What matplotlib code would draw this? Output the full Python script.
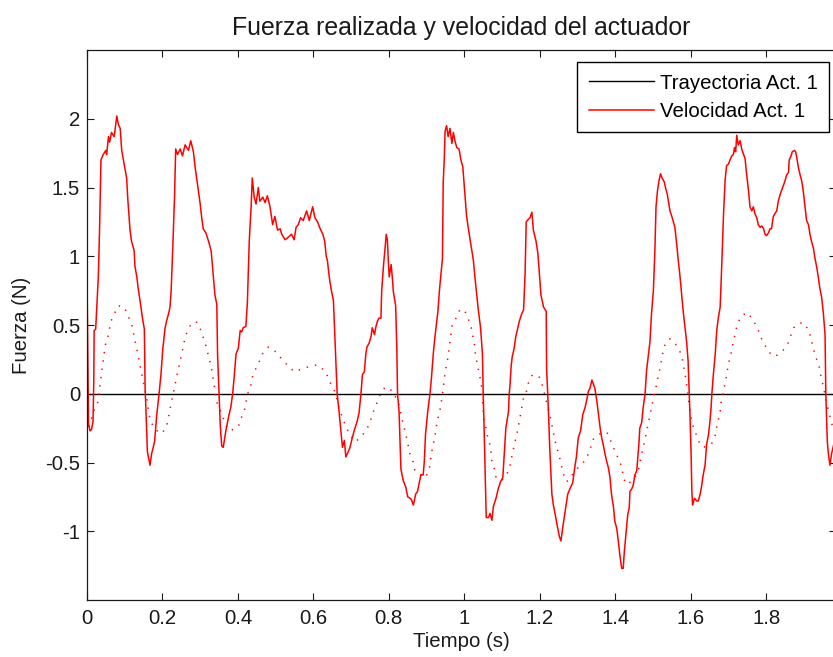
import matplotlib
matplotlib.use("Agg")
import matplotlib.pyplot as plt

plt.rcParams["font.family"] = ["Liberation Sans", "DejaVu Sans"]
plt.rcParams["axes.unicode_minus"] = False

# === DATA ===
# measured actuator signal, solid red
vel_t = [
    0.000, 0.002, 0.004, 0.008, 0.012, 0.016, 0.018, 0.019, 0.023, 0.026,
    0.030, 0.033, 0.037, 0.043, 0.050, 0.052, 0.057, 0.060, 0.065, 0.072,
    0.079, 0.083, 0.088, 0.092, 0.099, 0.105, 0.108, 0.114, 0.118, 0.125,
    0.127, 0.132, 0.136, 0.142, 0.147, 0.152, 0.154, 0.156, 0.160, 0.167,
    0.171, 0.179, 0.185, 0.191, 0.196, 0.201, 0.207, 0.211, 0.216, 0.220,
    0.223, 0.227, 0.232, 0.235, 0.240, 0.247, 0.253, 0.260, 0.269, 0.275,
    0.282, 0.286, 0.291, 0.300, 0.304, 0.308, 0.315, 0.322, 0.329, 0.335,
    0.339, 0.344, 0.346, 0.350, 0.353, 0.357, 0.361, 0.368, 0.375, 0.381,
    0.386, 0.390, 0.395, 0.401, 0.406, 0.410, 0.414, 0.421, 0.425, 0.430,
    0.435, 0.438, 0.443, 0.448, 0.454, 0.458, 0.466, 0.472, 0.478, 0.485,
    0.492, 0.498, 0.505, 0.512, 0.516, 0.525, 0.534, 0.542, 0.549, 0.554,
    0.560, 0.566, 0.573, 0.582, 0.589, 0.598, 0.604, 0.611, 0.618, 0.625,
    0.630, 0.634, 0.637, 0.642, 0.647, 0.653, 0.657, 0.663, 0.668, 0.673,
    0.677, 0.682, 0.686, 0.691, 0.697, 0.703, 0.709, 0.715, 0.721, 0.726,
    0.730, 0.735, 0.739, 0.742, 0.748, 0.753, 0.756, 0.762, 0.765, 0.770,
    0.774, 0.779, 0.781, 0.786, 0.790, 0.793, 0.796, 0.799, 0.801, 0.806,
    0.809, 0.812, 0.818, 0.821, 0.823, 0.827, 0.830, 0.832, 0.838, 0.845,
    0.850, 0.856, 0.860, 0.865, 0.871, 0.876, 0.881, 0.885, 0.891, 0.894,
    0.897, 0.903, 0.909, 0.913, 0.918, 0.922, 0.925, 0.930, 0.934, 0.938,
    0.942, 0.944, 0.947, 0.949, 0.953, 0.957, 0.962, 0.967, 0.971, 0.975,
    0.980, 0.986, 0.991, 0.996, 1.002, 1.006, 1.013, 1.020, 1.024, 1.028,
    1.033, 1.037, 1.043, 1.048, 1.050, 1.052, 1.055, 1.058, 1.064, 1.068,
    1.073, 1.077, 1.084, 1.090, 1.096, 1.102, 1.105, 1.110, 1.117, 1.119,
    1.121, 1.124, 1.127, 1.132, 1.136, 1.141, 1.146, 1.152, 1.157, 1.161,
    1.164, 1.170, 1.174, 1.179, 1.183, 1.190, 1.195, 1.199, 1.203, 1.210,
    1.217, 1.218, 1.221, 1.223, 1.226, 1.229, 1.232, 1.236, 1.241, 1.247,
    1.252, 1.256, 1.262, 1.269, 1.274, 1.280, 1.287, 1.293, 1.297, 1.302,
    1.308, 1.314, 1.320, 1.324, 1.329, 1.333, 1.338, 1.342, 1.346, 1.351,
    1.355, 1.360, 1.364, 1.368, 1.373, 1.377, 1.382, 1.386, 1.390, 1.395,
    1.399, 1.404, 1.408, 1.412, 1.417, 1.421, 1.424, 1.428, 1.433, 1.437,
    1.439, 1.444, 1.448, 1.452, 1.457, 1.459, 1.463, 1.465, 1.470, 1.474,
    1.479, 1.483, 1.488, 1.492, 1.496, 1.501, 1.505, 1.508, 1.512, 1.516,
    1.520, 1.524, 1.530, 1.533, 1.538, 1.545, 1.551, 1.558, 1.562, 1.567,
    1.571, 1.576, 1.580, 1.585, 1.589, 1.593, 1.596, 1.598, 1.601, 1.603,
    1.605, 1.610, 1.616, 1.620, 1.625, 1.629, 1.633, 1.638, 1.642, 1.647,
    1.651, 1.654, 1.656, 1.660, 1.665, 1.669, 1.673, 1.678, 1.682, 1.687,
    1.691, 1.695, 1.700, 1.704, 1.709, 1.713, 1.716, 1.719, 1.722, 1.726,
    1.731, 1.735, 1.740, 1.744, 1.748, 1.753, 1.757, 1.762, 1.766, 1.770,
    1.775, 1.779, 1.784, 1.788, 1.793, 1.797, 1.801, 1.806, 1.810, 1.814,
    1.819, 1.823, 1.828, 1.832, 1.837, 1.841, 1.845, 1.850, 1.854, 1.859,
    1.861, 1.866, 1.869, 1.875, 1.878, 1.881, 1.885, 1.890, 1.894, 1.898,
    1.903, 1.907, 1.912, 1.916, 1.920, 1.925, 1.929, 1.934, 1.938, 1.942,
    1.947, 1.951, 1.956, 1.958, 1.962, 1.965, 1.969, 1.973, 1.977, 1.985,
]
vel_y = [
    0.85, 0.32, -0.22, -0.27, -0.26, -0.20, 0.10, 0.46, 0.47, 0.63,
    0.85, 1.16, 1.70, 1.74, 1.77, 1.74, 1.87, 1.83, 1.90, 1.87,
    2.02, 1.96, 1.93, 1.77, 1.66, 1.57, 1.42, 1.19, 1.11, 1.04,
    0.93, 0.85, 0.76, 0.65, 0.55, 0.47, 0.04, -0.10, -0.42, -0.52,
    -0.44, -0.35, -0.15, 0.00, 0.14, 0.33, 0.48, 0.53, 0.58, 0.63,
    0.75, 1.04, 1.43, 1.78, 1.74, 1.78, 1.73, 1.81, 1.77, 1.84,
    1.76, 1.66, 1.56, 1.38, 1.28, 1.20, 1.17, 1.11, 1.04, 0.85,
    0.72, 0.65, 0.29, 0.00, -0.22, -0.38, -0.39, -0.27, -0.17, -0.10,
    0.00, 0.12, 0.29, 0.33, 0.46, 0.45, 0.48, 0.49, 0.66, 1.11,
    1.36, 1.57, 1.43, 1.38, 1.50, 1.40, 1.43, 1.39, 1.44, 1.36,
    1.23, 1.29, 1.19, 1.20, 1.16, 1.12, 1.14, 1.16, 1.12, 1.21,
    1.23, 1.28, 1.26, 1.33, 1.26, 1.36, 1.28, 1.25, 1.20, 1.16,
    1.11, 1.00, 0.97, 0.85, 0.76, 0.68, 0.41, 0.00, -0.13, -0.27,
    -0.39, -0.34, -0.46, -0.43, -0.39, -0.32, -0.26, -0.21, -0.14, 0.00,
    0.14, 0.16, 0.29, 0.34, 0.37, 0.42, 0.48, 0.43, 0.48, 0.53,
    0.55, 0.55, 0.75, 0.94, 1.06, 1.16, 1.12, 0.94, 0.85, 0.94,
    0.85, 0.74, 0.64, 0.34, 0.00, -0.13, -0.39, -0.55, -0.63, -0.68,
    -0.75, -0.76, -0.77, -0.81, -0.73, -0.71, -0.64, -0.59, -0.59, -0.49,
    -0.30, -0.13, 0.00, 0.12, 0.30, 0.41, 0.48, 0.60, 0.75, 0.87,
    0.98, 1.53, 1.72, 1.91, 1.95, 1.87, 1.93, 1.82, 1.90, 1.84,
    1.79, 1.78, 1.70, 1.65, 1.43, 1.29, 1.16, 1.04, 0.97, 0.85,
    0.72, 0.61, 0.48, 0.29, 0.00, -0.20, -0.54, -0.90, -0.90, -0.87,
    -0.92, -0.82, -0.76, -0.69, -0.64, -0.61, -0.47, -0.25, -0.13, 0.00,
    0.06, 0.20, 0.27, 0.33, 0.41, 0.47, 0.53, 0.58, 0.61, 0.87,
    1.25, 1.27, 1.28, 1.32, 1.19, 1.11, 1.02, 0.87, 0.72, 0.63,
    0.60, 0.19, 0.00, -0.13, -0.37, -0.55, -0.73, -0.81, -0.88, -0.97,
    -1.04, -1.07, -0.95, -0.82, -0.73, -0.69, -0.65, -0.53, -0.46, -0.32,
    -0.27, -0.15, -0.10, -0.05, 0.02, 0.04, 0.10, 0.07, 0.04, -0.05,
    -0.14, -0.25, -0.32, -0.37, -0.44, -0.49, -0.54, -0.61, -0.73, -0.82,
    -0.93, -0.98, -1.07, -1.17, -1.27, -1.27, -1.15, -1.03, -0.88, -0.83,
    -0.71, -0.69, -0.66, -0.59, -0.56, -0.49, -0.35, -0.25, -0.21, -0.10,
    0.00, 0.17, 0.29, 0.38, 0.58, 0.75, 1.04, 1.36, 1.48, 1.55,
    1.60, 1.57, 1.54, 1.50, 1.45, 1.33, 1.28, 1.21, 1.11, 0.97,
    0.87, 0.72, 0.60, 0.48, 0.38, 0.24, 0.00, -0.15, -0.44, -0.71,
    -0.81, -0.76, -0.78, -0.78, -0.73, -0.67, -0.59, -0.52, -0.37, -0.30,
    -0.20, -0.10, 0.00, 0.14, 0.29, 0.46, 0.55, 0.63, 0.92, 1.31,
    1.55, 1.66, 1.67, 1.70, 1.73, 1.74, 1.79, 1.76, 1.88, 1.81,
    1.84, 1.78, 1.74, 1.71, 1.60, 1.48, 1.36, 1.33, 1.36, 1.31,
    1.28, 1.23, 1.21, 1.22, 1.20, 1.16, 1.15, 1.17, 1.20, 1.20,
    1.29, 1.31, 1.33, 1.40, 1.45, 1.48, 1.51, 1.55, 1.59, 1.61,
    1.70, 1.73, 1.76, 1.77, 1.76, 1.72, 1.65, 1.59, 1.55, 1.48,
    1.36, 1.26, 1.23, 1.16, 1.11, 1.06, 0.99, 0.92, 0.85, 0.77,
    0.70, 0.60, 0.43, 0.00, -0.35, -0.44, -0.52, -0.44, -0.39, -0.30,
]

# reference signal, dotted red (no legend entry)
ref_t = [
    0.000, 0.017, 0.028, 0.037, 0.043, 0.048, 0.055, 0.064, 0.072, 0.083,
    0.099, 0.108, 0.118, 0.127, 0.136, 0.143, 0.152, 0.158, 0.167, 0.180,
    0.198, 0.211, 0.223, 0.233, 0.242, 0.251, 0.260, 0.268, 0.279, 0.291,
    0.302, 0.315, 0.329, 0.337, 0.345, 0.353, 0.370, 0.379, 0.401, 0.408,
    0.417, 0.426, 0.434, 0.438, 0.447, 0.456, 0.465, 0.481, 0.503, 0.519,
    0.531, 0.549, 0.569, 0.591, 0.611, 0.633, 0.641, 0.650, 0.660, 0.664,
    0.679, 0.688, 0.697, 0.712, 0.730, 0.743, 0.752, 0.759, 0.768, 0.776,
    0.790, 0.810, 0.819, 0.828, 0.837, 0.847, 0.856, 0.865, 0.869, 0.897,
    0.907, 0.913, 0.922, 0.928, 0.934, 0.938, 0.944, 0.949, 0.957, 0.962,
    0.968, 0.978, 0.988, 1.000, 1.008, 1.017, 1.021, 1.026, 1.030, 1.035,
    1.039, 1.044, 1.046, 1.052, 1.059, 1.062, 1.068, 1.071, 1.073, 1.080,
    1.084, 1.100, 1.118, 1.123, 1.127, 1.132, 1.136, 1.141, 1.145, 1.149,
    1.156, 1.165, 1.170, 1.181, 1.199, 1.207, 1.223, 1.229, 1.233, 1.241,
    1.247, 1.253, 1.262, 1.271, 1.282, 1.293, 1.305, 1.322, 1.331, 1.342,
    1.360, 1.378, 1.389, 1.398, 1.408, 1.417, 1.422, 1.432, 1.450, 1.461,
    1.465, 1.474, 1.479, 1.488, 1.496, 1.505, 1.510, 1.514, 1.519, 1.523,
    1.527, 1.532, 1.545, 1.560, 1.571, 1.578, 1.585, 1.589, 1.598, 1.603,
    1.611, 1.622, 1.632, 1.645, 1.656, 1.665, 1.669, 1.673, 1.678, 1.680,
    1.684, 1.689, 1.693, 1.697, 1.701, 1.706, 1.710, 1.715, 1.719, 1.726,
    1.735, 1.751, 1.766, 1.777, 1.784, 1.795, 1.808, 1.824, 1.846, 1.857,
    1.866, 1.875, 1.896, 1.914, 1.918, 1.925, 1.929, 1.937, 1.943, 1.946,
    1.951, 1.960, 1.966, 1.971, 1.976, 1.985,
]
ref_y = [
    -0.30, -0.13, -0.07, 0.12, 0.24, 0.35, 0.41, 0.53, 0.58, 0.64,
    0.63, 0.57, 0.51, 0.39, 0.27, 0.17, 0.05, -0.03, -0.19, -0.26,
    -0.29, -0.24, -0.07, 0.06, 0.18, 0.29, 0.41, 0.47, 0.52, 0.52,
    0.46, 0.35, 0.20, 0.06, -0.07, -0.12, -0.24, -0.27, -0.24, -0.18,
    -0.12, 0.00, 0.06, 0.12, 0.18, 0.23, 0.29, 0.34, 0.30, 0.24,
    0.21, 0.16, 0.18, 0.20, 0.21, 0.16, 0.10, 0.05, 0.00, -0.07,
    -0.19, -0.25, -0.30, -0.35, -0.30, -0.25, -0.19, -0.13, -0.07, -0.01,
    0.05, 0.02, -0.03, -0.09, -0.21, -0.32, -0.44, -0.50, -0.56, -0.61,
    -0.55, -0.43, -0.31, -0.20, -0.14, -0.08, 0.04, 0.15, 0.27, 0.38,
    0.50, 0.55, 0.61, 0.61, 0.56, 0.50, 0.44, 0.38, 0.27, 0.21,
    0.15, 0.09, 0.04, -0.20, -0.26, -0.32, -0.37, -0.43, -0.49, -0.55,
    -0.61, -0.63, -0.56, -0.50, -0.44, -0.38, -0.33, -0.27, -0.21, -0.15,
    -0.04, 0.02, 0.08, 0.14, 0.12, 0.06, -0.12, -0.18, -0.24, -0.35,
    -0.41, -0.47, -0.58, -0.64, -0.61, -0.56, -0.53, -0.48, -0.42, -0.33,
    -0.29, -0.28, -0.35, -0.41, -0.47, -0.53, -0.62, -0.66, -0.62, -0.56,
    -0.50, -0.39, -0.33, -0.21, -0.10, 0.02, 0.07, 0.13, 0.19, 0.25,
    0.31, 0.36, 0.40, 0.36, 0.31, 0.25, 0.14, 0.07, -0.13, -0.21,
    -0.27, -0.35, -0.39, -0.38, -0.36, -0.30, -0.24, -0.19, -0.13, -0.07,
    -0.01, 0.05, 0.10, 0.17, 0.23, 0.28, 0.34, 0.40, 0.46, 0.52,
    0.57, 0.59, 0.53, 0.48, 0.42, 0.36, 0.30, 0.27, 0.32, 0.36,
    0.43, 0.49, 0.52, 0.46, 0.40, 0.34, 0.28, 0.23, 0.17, 0.11,
    0.06, -0.07, -0.13, -0.19, -0.24, -0.30,
]

# trajectory of actuator 1 (constant zero)
tray_t = [0.0, 1.985]
tray_y = [0.0, 0.0]

x_ticks = [0, 0.2, 0.4, 0.6, 0.8, 1.0, 1.2, 1.4, 1.6, 1.8]
x_tick_labels = ["0", "0.2", "0.4", "0.6", "0.8", "1", "1.2", "1.4", "1.6", "1.8"]
y_ticks = [-1, -0.5, 0, 0.5, 1, 1.5, 2]
y_tick_labels = ["-1", "-0.5", "0", "0.5", "1", "1.5", "2"]

W, H = 833, 657
fig = plt.figure(figsize=(W / 100, H / 100), dpi=100)
# axes run a little past the right border, as in the cropped original
ax = fig.add_axes([87 / W, 57 / H, 749 / W, 550 / H])

ax.plot(tray_t, tray_y, color="black", linewidth=1.0, label="Trayectoria Act. 1")
ax.plot(vel_t, vel_y, color="red", linewidth=1.1, label="Velocidad Act. 1")
ax.plot(ref_t, ref_y, color="red", linewidth=1.1, linestyle=(0, (0.9, 4.6)))

ax.set_xlim(0, 1.985)
ax.set_ylim(-1.5, 2.5)
ax.set_xticks(x_ticks)
ax.set_xticklabels(x_tick_labels)
ax.set_yticks(y_ticks)
ax.set_yticklabels(y_tick_labels)
ax.tick_params(direction="in", length=5, width=0.8, top=True, right=True,
               labelsize=14.7, colors="#1a1a1a")
ax.tick_params(axis="x", pad=6.5)
ax.tick_params(axis="y", pad=5)
for sp in ax.spines.values():
    sp.set_linewidth(0.9)
    sp.set_color("#1a1a1a")

ax.set_title("Fuerza realizada y velocidad del actuador", fontsize=17.9,
             color="#1a1a1a", pad=11)
ax.set_xlabel("Tiempo (s)", fontsize=14.7, color="#1a1a1a", labelpad=3)
ax.set_ylabel("Fuerza (N)", fontsize=14.7, color="#1a1a1a", labelpad=10)

leg = ax.legend(loc="upper right", bbox_to_anchor=(0.991, 0.9776),
                borderaxespad=0, fontsize=14.7, fancybox=False, framealpha=1,
                edgecolor="black", handlelength=3.2, handletextpad=0.3,
                borderpad=0.55, labelspacing=0.45)
leg.get_frame().set_linewidth(1.0)

fig.savefig("out.png", dpi=100)
